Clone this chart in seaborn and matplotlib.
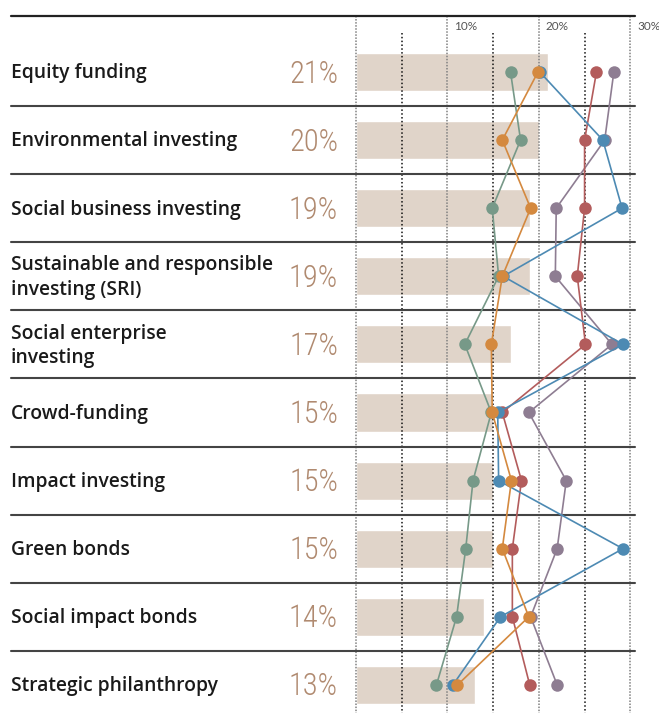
import numpy as np
import pandas as pd
import seaborn as sns
import matplotlib.pyplot as plt
from matplotlib import font_manager as fm

# chart data
categories = ["Equity funding", "Environmental investing", "Social business investing",
              "Sustainable and responsible\ninvesting (SRI)", "Social enterprise\ninvesting",
              "Crowd-funding", "Impact investing", "Green bonds", "Social impact bonds",
              "Strategic philanthropy"]
overall = [21, 20, 19, 19, 17, 15, 15, 15, 14, 13]
pct_labels = ["21%", "20%", "19%", "19%", "17%", "15%", "15%", "15%", "14%", "13%"]

purple = [28.2, 27.2, 21.9, 21.8, 28.0, 18.9, 23.0, 22.0, 19.1, 22.0]
red = [26.3, 25.0, 25.0, 24.2, 25.1, 16.0, 18.1, 17.1, 17.1, 19.0]
green = [16.9, 18.0, 14.9, 15.6, 11.9, 14.8, 12.8, 12.0, 11.0, 8.8]
blue = [20.1, 27.0, 29.1, 16.1, 29.2, 15.5, 15.6, 29.2, 15.8, 10.6]
orange = [19.9, 16.0, 19.1, 16.0, 14.8, 14.9, 17.0, 16.0, 18.9, 11.1]

major_ticks = [0, 10, 20, 30]
minor_ticks = [5, 15, 25]
tick_labels = ["10%", "20%", "30%"]

# look for an upright narrow face for the big percentages (light if possible)
def weight_num(w):
    named = {"light": 300, "normal": 400, "regular": 400, "book": 400}
    return w if isinstance(w, int) else named.get(w, 500)

narrow = None
for want in ["Roboto Condensed", "Open Sans Condensed", "Liberation Sans Narrow", "DejaVu Sans"]:
    faces = [f for f in fm.fontManager.ttflist
             if f.name == want and f.style == "normal"
             and (want != "DejaVu Sans" or f.stretch == "condensed")
             and weight_num(f.weight) <= 400]
    if faces:
        faces.sort(key=lambda f: abs(weight_num(f.weight) - 300))
        narrow = fm.FontProperties(fname=faces[0].fname)
        break
if narrow is None:
    narrow = fm.FontProperties(family="DejaVu Sans")
narrow.set_size(22)

sns.set_style("white")
fig = plt.figure(figsize=(6.59, 7.13), dpi=100)
ax = fig.add_axes([0, 0, 1, 1])

rows = np.arange(len(categories))
df = pd.DataFrame({"cat": categories, "pct": overall})
sns.barplot(data=df, x="pct", y="cat", orient="h", color="#e0d4c9",
            width=0.56, saturation=1, ax=ax, zorder=1)

# px -> data scale: 0% at x=356, 9.143 px per %
ax.set_xlim(-356 / 9.143, 303 / 9.143)
ax.set_ylim((713 - 72) / 68.1, -72 / 68.1)
ax.axis("off")

top_y = (16 - 72) / 68.1
minor_top = (33 - 72) / 68.1
bottom_y = (713 - 72) / 68.1
for t in major_ticks:
    ax.plot([t, t], [top_y, bottom_y], color="#808080", lw=1.1, ls=(0, (1, 1)), zorder=2)
for t in minor_ticks:
    ax.plot([t, t], [minor_top, bottom_y], color="#111111", lw=1.1, ls=(0, (1, 1.5)), zorder=2)
for t, lab in zip(major_ticks[1:], tick_labels):
    ax.text(t + 0.75, (27 - 72) / 68.1, lab, fontsize=8.5, color="#555555",
            ha="left", va="center", family="Lato")

sep_left = (11 - 356) / 9.143
sep_right = (635 - 356) / 9.143
ax.plot([sep_left, sep_right], [top_y, top_y], color="#222222", lw=1.6, zorder=2)
for i in range(len(categories) - 1):
    ax.plot([sep_left, sep_right], [i + 0.5, i + 0.5], color="#444444", lw=1.5, zorder=2)

for i, (cat, lab) in enumerate(zip(categories, pct_labels)):
    ax.text(sep_left, i + 0.02, cat, fontsize=13.9, color="#1a1a1a", ha="left", va="center",
            family="Open Sans", fontweight="semibold", linespacing=1.3)
    ax.text((338 - 356) / 9.143, i + 0.03, lab, fontproperties=narrow, color="#b08a70",
            ha="right", va="center")

series = [(purple, "#8e7d92"), (red, "#b35c5c"), (green, "#779988"),
          (blue, "#4d8ab3"), (orange, "#d4893f")]
for k, (vals, col) in enumerate(series):
    sns.lineplot(x=vals, y=rows, sort=False, orient="y", color=col, lw=1.2,
                 marker="o", markersize=9, markeredgewidth=0, ax=ax, zorder=3 + k)

fig.savefig("out.png", dpi=100)
